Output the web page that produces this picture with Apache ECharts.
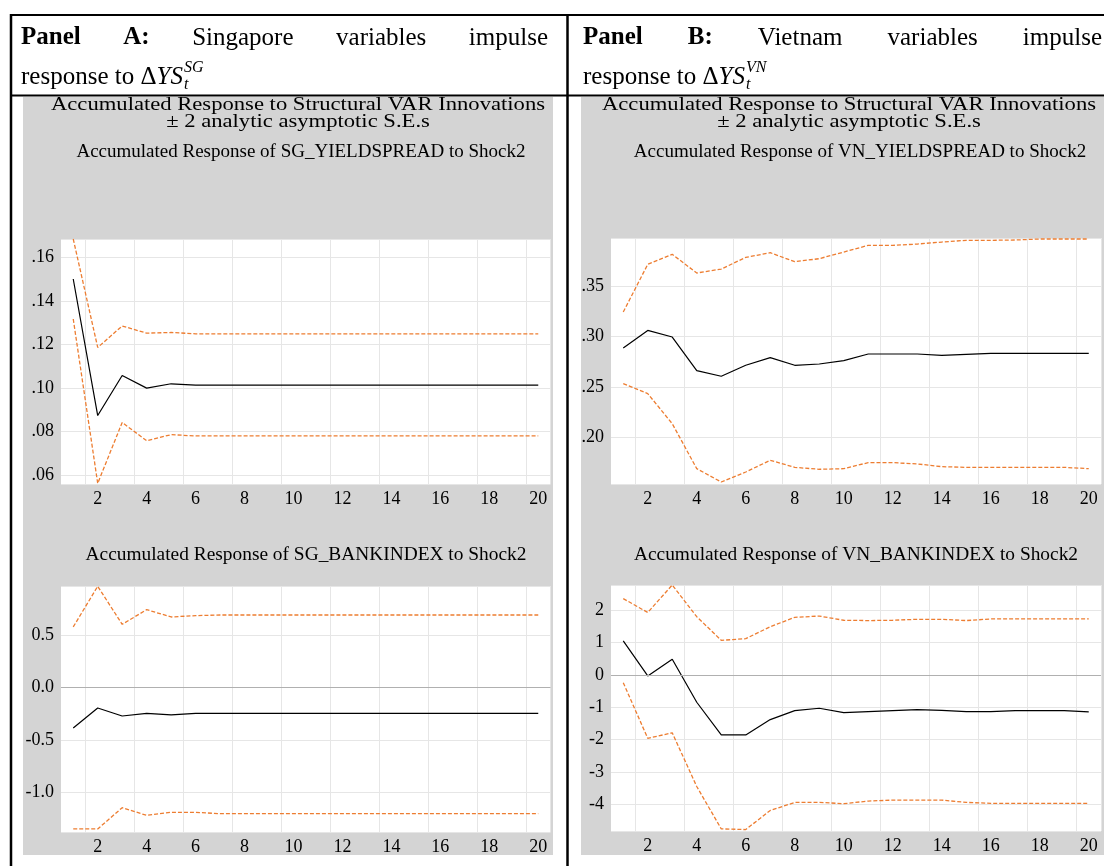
<!DOCTYPE html>
<html>
<head>
<meta charset="utf-8">
<script src="https://cdn.jsdelivr.net/npm/echarts@6/dist/echarts.min.js"></script>
<style>
  html, body { margin: 0; padding: 0; background: #fff; }
  #chart { width: 1104px; height: 866px; }
</style>
</head>
<body>
<div id="chart"></div>
<script>
// horizons 1..20
var periods = ["1", "2", "3", "4", "5", "6", "7", "8", "9", "10",
  "11", "12", "13", "14", "15", "16", "17", "18", "19", "20"];
var xTickLabels = ["2", "4", "6", "8", "10", "12", "14", "16", "18", "20"];

// Panel A: SG_YIELDSPREAD
var sgYieldResp = [0.1502, 0.0874, 0.1058, 0.1000, 0.1020, 0.1014, 0.1014, 0.1014, 0.1014, 0.1014,
  0.1014, 0.1014, 0.1014, 0.1014, 0.1014, 0.1014, 0.1014, 0.1014, 0.1014, 0.1014];
var sgYieldUpper = [0.1686, 0.1187, 0.1286, 0.1253, 0.1256, 0.1250, 0.1250, 0.1250, 0.1250, 0.1250,
  0.1250, 0.1250, 0.1250, 0.1250, 0.1250, 0.1250, 0.1250, 0.1250, 0.1250, 0.1250];
var sgYieldLower = [0.1318, 0.0562, 0.0842, 0.0758, 0.0786, 0.0780, 0.0780, 0.0780, 0.0780, 0.0780,
  0.0780, 0.0780, 0.0780, 0.0780, 0.0780, 0.0780, 0.0780, 0.0780, 0.0780, 0.0780];

// Panel A: SG_BANKINDEX
var sgBankResp = [-0.385, -0.194, -0.271, -0.245, -0.261, -0.245, -0.245, -0.245, -0.245, -0.245,
  -0.245, -0.245, -0.245, -0.245, -0.245, -0.245, -0.245, -0.245, -0.245, -0.245];
var sgBankUpper = [0.580, 0.968, 0.605, 0.745, 0.675, 0.688, 0.694, 0.694, 0.694, 0.694,
  0.694, 0.694, 0.694, 0.694, 0.694, 0.694, 0.694, 0.694, 0.694, 0.694];
var sgBankLower = [-1.350, -1.350, -1.147, -1.220, -1.191, -1.191, -1.204, -1.204, -1.204, -1.204,
  -1.204, -1.204, -1.204, -1.204, -1.204, -1.204, -1.204, -1.204, -1.204, -1.204];

// Panel B: VN_YIELDSPREAD
var vnYieldResp = [0.2884, 0.3059, 0.2993, 0.2660, 0.2604, 0.2713, 0.2789, 0.2713, 0.2726, 0.2759,
  0.2825, 0.2825, 0.2825, 0.2812, 0.2822, 0.2831, 0.2831, 0.2831, 0.2831, 0.2831];
var vnYieldUpper = [0.3241, 0.3714, 0.3813, 0.3628, 0.3667, 0.3783, 0.3829, 0.3740, 0.3770, 0.3836,
  0.3902, 0.3902, 0.3915, 0.3935, 0.3952, 0.3952, 0.3955, 0.3965, 0.3965, 0.3965];
var vnYieldLower = [0.2531, 0.2432, 0.2134, 0.1688, 0.1556, 0.1655, 0.1771, 0.1701, 0.1682, 0.1688,
  0.1748, 0.1748, 0.1735, 0.1708, 0.1701, 0.1701, 0.1701, 0.1701, 0.1701, 0.1688];

// Panel B: VN_BANKINDEX
var vnBankResp = [1.05, -0.03, 0.485, -0.845, -1.856, -1.856, -1.381, -1.103, -1.031, -1.165,
  -1.134, -1.103, -1.072, -1.093, -1.134, -1.134, -1.103, -1.103, -1.103, -1.144];
var vnBankUpper = [2.36, 1.93, 2.78, 1.80, 1.07, 1.12, 1.49, 1.78, 1.82, 1.69,
  1.68, 1.69, 1.72, 1.72, 1.68, 1.73, 1.73, 1.73, 1.73, 1.73];
var vnBankLower = [-0.24, -1.96, -1.79, -3.45, -4.76, -4.78, -4.19, -3.94, -3.94, -3.98,
  -3.90, -3.87, -3.87, -3.87, -3.94, -3.97, -3.97, -3.97, -3.97, -3.97];

var serif = '"Liberation Serif", "Times New Roman", serif';
var orange = "#ED7D31";

var chartDom = document.getElementById("chart");
var myChart = echarts.init(chartDom, null, { renderer: "canvas" });

// measure text so the header lines can be justified like the document
var measureCtx = document.createElement("canvas").getContext("2d");
function textWidth(str, font) {
  measureCtx.font = font;
  return measureCtx.measureText(str).width;
}

function justifiedLine(words, left, right, y) {
  var total = 0;
  words.forEach(function (w) { total += textWidth(w.t, w.font); });
  var gap = (right - left - total) / (words.length - 1);
  var x = left;
  var out = [];
  words.forEach(function (w) {
    out.push({ type: "text", x: x, y: y, silent: true,
      style: { text: w.t, font: w.font, fill: "#000", verticalAlign: "middle" } });
    x += textWidth(w.t, w.font) + gap;
  });
  return out;
}

var hFont = "25px " + serif;
var hBold = "bold 25px " + serif;
var mItalic = "italic 25px " + serif;
var sItalic = "italic 16px " + serif;

function responseLine(left, y, sup) {
  var out = [];
  var x = left;
  var pre = "response to ";
  out.push({ type: "text", x: x, y: y, silent: true,
    style: { text: pre, font: hFont, fill: "#000", verticalAlign: "middle" } });
  x += textWidth(pre, hFont);
  out.push({ type: "text", x: x, y: y, silent: true,
    style: { text: "\u0394", font: hFont, fill: "#000", verticalAlign: "middle" } });
  x += textWidth("\u0394", hFont);
  out.push({ type: "text", x: x, y: y, silent: true,
    style: { text: "YS", font: mItalic, fill: "#000", verticalAlign: "middle" } });
  x += textWidth("YS", mItalic) + 1;
  out.push({ type: "text", x: x, y: y - 9, silent: true,
    style: { text: sup, font: sItalic, fill: "#000", verticalAlign: "middle" } });
  out.push({ type: "text", x: x, y: y + 8, silent: true,
    style: { text: "t", font: sItalic, fill: "#000", verticalAlign: "middle" } });
  return out;
}

function centerText(str, x, y, size, stretch) {
  return { type: "text", x: x, y: y, silent: true, scaleX: stretch || 1,
    style: { text: str, font: size + "px " + serif, fill: "#000", align: "center", verticalAlign: "middle" } };
}

function borderLine(x1, y1, x2, y2, w) {
  return { type: "line", silent: true, z: 10,
    shape: { x1: x1, y1: y1, x2: x2, y2: y2 },
    style: { stroke: "#000", lineWidth: w } };
}

var graphics = [
  { type: "rect", silent: true, z: -10, shape: { x: 23, y: 97, width: 530, height: 758 }, style: { fill: "#d4d4d4" } },
  { type: "rect", silent: true, z: -10, shape: { x: 581, y: 97, width: 523, height: 758 }, style: { fill: "#d4d4d4" } },
  borderLine(10, 15, 1104, 15, 2),
  borderLine(10, 95.5, 1104, 95.5, 2),
  borderLine(11, 14, 11, 866, 2.5),
  borderLine(567.5, 14, 567.5, 866, 2.5),
  centerText("Accumulated Response to Structural VAR Innovations", 298, 105, 19.5, 1.16),
  centerText("\u00B1 2 analytic asymptotic S.E.s", 298, 122, 19.5, 1.16),
  centerText("Accumulated Response to Structural VAR Innovations", 849, 105, 19.5, 1.16),
  centerText("\u00B1 2 analytic asymptotic S.E.s", 849, 122, 19.5, 1.16),
  centerText("Accumulated Response of SG_YIELDSPREAD to Shock2", 301, 152, 19),
  centerText("Accumulated Response of VN_YIELDSPREAD to Shock2", 860, 152, 19),
  centerText("Accumulated Response of SG_BANKINDEX to Shock2", 306, 555, 19, 1.02),
  centerText("Accumulated Response of VN_BANKINDEX to Shock2", 856, 555, 19, 1.02)
];
graphics = graphics.concat(
  justifiedLine([
    { t: "Panel", font: hBold }, { t: "A:", font: hBold },
    { t: "Singapore", font: hFont }, { t: "variables", font: hFont }, { t: "impulse", font: hFont }
  ], 21, 548, 38),
  justifiedLine([
    { t: "Panel", font: hBold }, { t: "B:", font: hBold },
    { t: "Vietnam", font: hFont }, { t: "variables", font: hFont }, { t: "impulse", font: hFont }
  ], 583, 1102, 38),
  responseLine(21, 77, "SG"),
  responseLine(583, 77, "VN")
);

var panels = [
  { grid: { left: 61, top: 239, width: 489.5, height: 245 }, min: 0.0559, max: 0.1686, split: 5,
    fmt: function (v) { return v.toFixed(2).replace(/^0/, ""); },
    resp: sgYieldResp, upper: sgYieldUpper, lower: sgYieldLower, zero: false },
  { grid: { left: 611, top: 238, width: 490, height: 246 }, min: 0.1536, max: 0.3975, split: 5,
    fmt: function (v) { return v.toFixed(2).replace(/^0/, ""); },
    resp: vnYieldResp, upper: vnYieldUpper, lower: vnYieldLower, zero: false },
  { grid: { left: 61, top: 586, width: 489.5, height: 246 }, min: -1.379, max: 0.971, split: 5,
    fmt: function (v) { return v.toFixed(1); },
    resp: sgBankResp, upper: sgBankUpper, lower: sgBankLower, zero: true },
  { grid: { left: 611, top: 585, width: 490, height: 246 }, min: -4.825, max: 2.78, split: 7,
    fmt: function (v) { return v.toFixed(0); },
    resp: vnBankResp, upper: vnBankUpper, lower: vnBankLower, zero: true }
];

var grids = [], xAxes = [], yAxes = [], series = [];
panels.forEach(function (p, i) {
  grids.push(Object.assign({ show: true, backgroundColor: "#fff", borderWidth: 0, containLabel: false }, p.grid));
  xAxes.push({
    type: "category", gridIndex: i, data: periods, boundaryGap: true,
    axisLine: { show: false }, axisTick: { show: false },
    axisLabel: {
      interval: function (idx, val) { return xTickLabels.indexOf(val) >= 0; },
      fontFamily: serif, fontSize: 18, color: "#000", margin: 6
    },
    splitLine: { show: true, interval: function (idx) { return idx % 2 === 1; },
      lineStyle: { color: "#e6e6e6", width: 1 } }
  });
  yAxes.push({
    type: "value", gridIndex: i, min: p.min, max: p.max, splitNumber: p.split, scale: true,
    axisLine: { show: false }, axisTick: { show: false },
    axisLabel: { formatter: p.fmt, showMinLabel: false, showMaxLabel: false,
      fontFamily: serif, fontSize: 18, color: "#000", margin: 7 },
    splitLine: { show: true, lineStyle: { color: "#e6e6e6", width: 1 } }
  });
  var dashed = { color: orange, width: 1.3, type: [4, 2] };
  var mid = {
    type: "line", xAxisIndex: i, yAxisIndex: i, data: p.resp, symbol: "none",
    lineStyle: { color: "#000", width: 1.2 }, z: 3
  };
  if (p.zero) {
    mid.markLine = {
      silent: true, symbol: ["none", "none"], label: { show: false },
      lineStyle: { color: "#b0b0b0", type: "solid", width: 1 },
      data: [{ yAxis: 0 }]
    };
  }
  series.push(mid);
  series.push({ type: "line", xAxisIndex: i, yAxisIndex: i, data: p.upper, symbol: "none", lineStyle: dashed });
  series.push({ type: "line", xAxisIndex: i, yAxisIndex: i, data: p.lower, symbol: "none", lineStyle: dashed });
});

var option = {
  animation: false,
  backgroundColor: "#fff",
  graphic: { elements: graphics },
  grid: grids,
  xAxis: xAxes,
  yAxis: yAxes,
  series: series
};

if (option && typeof option === "object") {
  myChart.setOption(option);
}
</script>
</body>
</html>
